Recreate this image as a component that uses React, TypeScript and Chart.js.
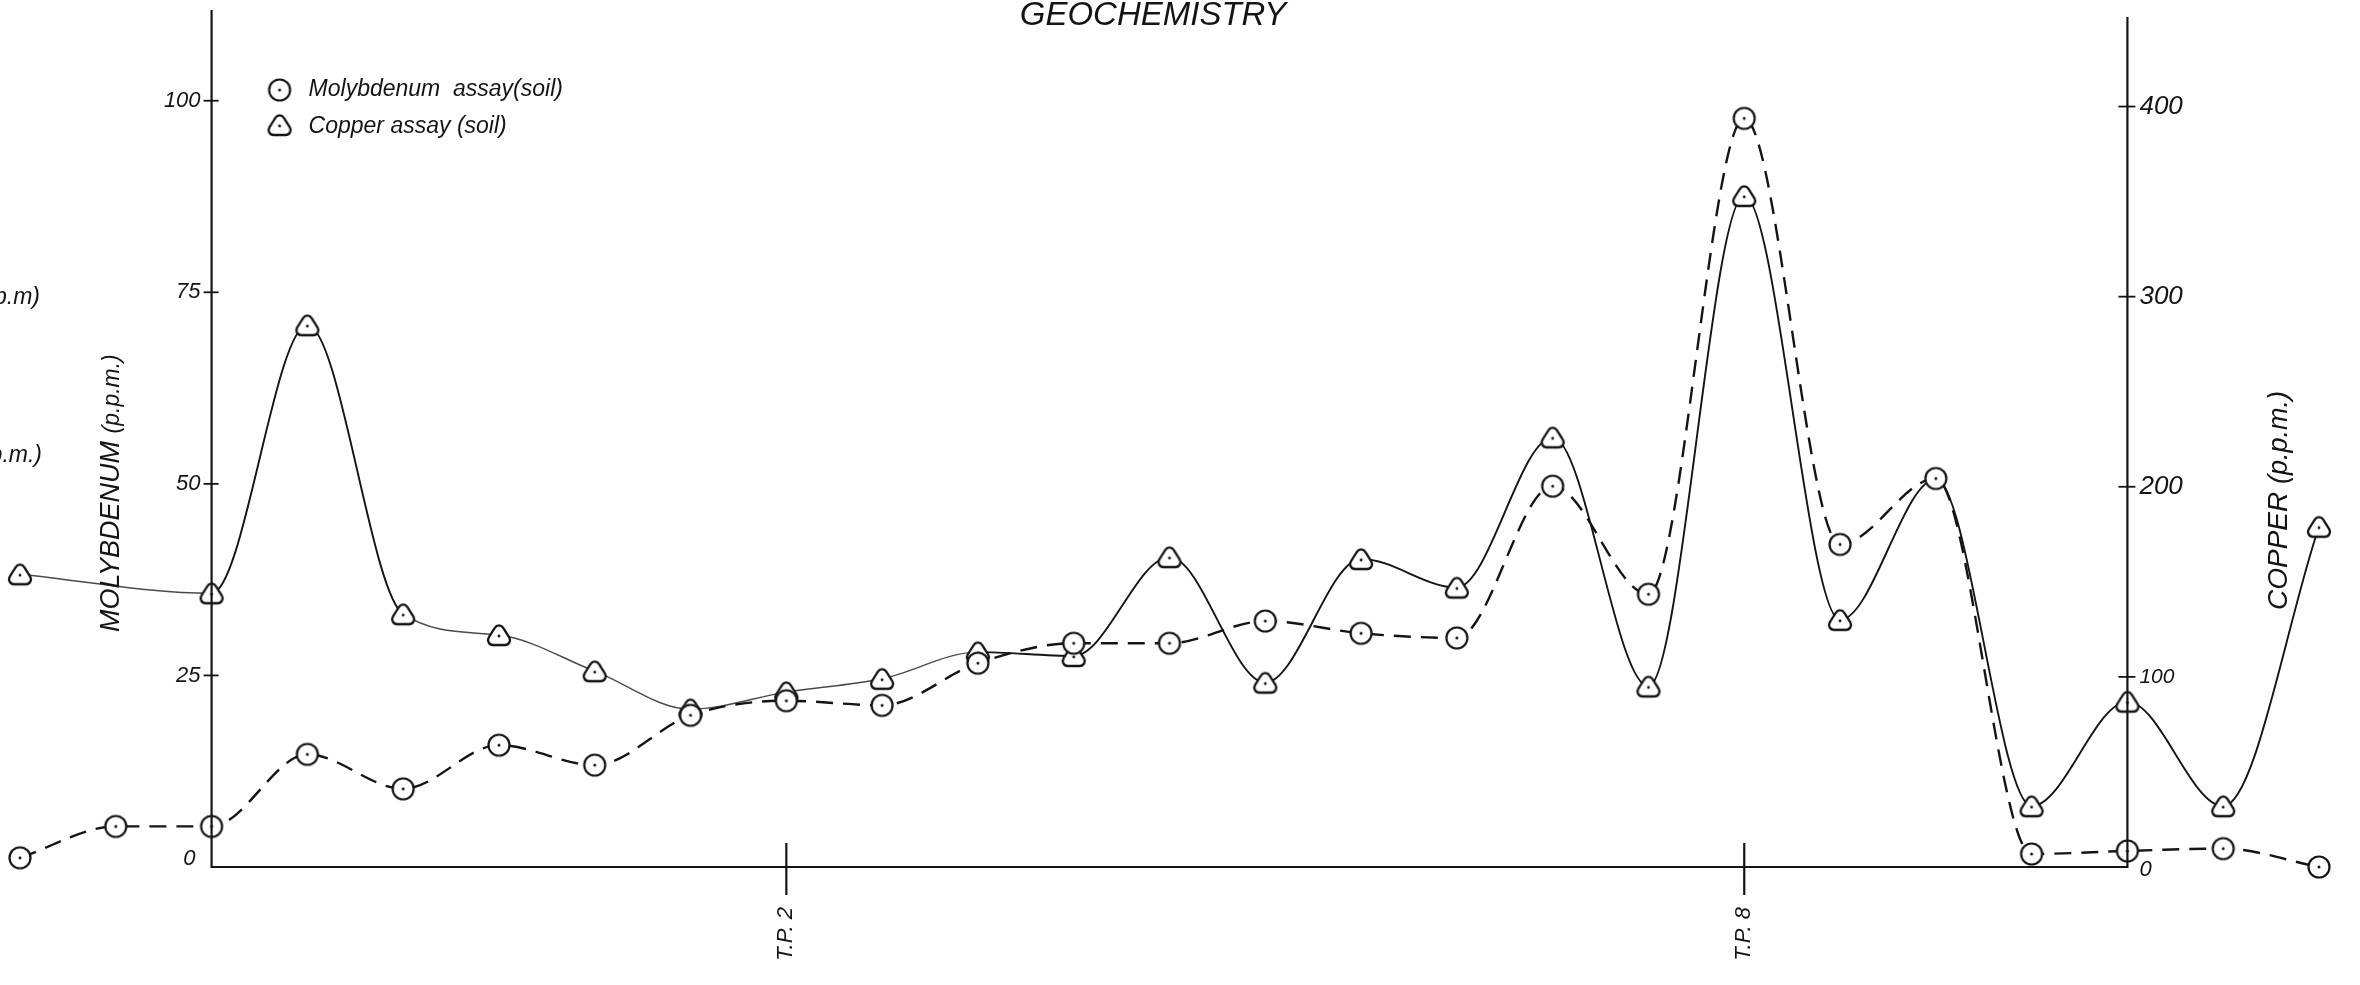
import React, { useEffect, useRef } from "react";
import { Chart, registerables } from "chart.js";

Chart.register(...registerables);

// ---- data ----
const STATIONS = [0, 1, 2, 3, 4, 5, 6, 7, 8, 9, 10, 11, 12, 13, 14, 15, 16, 17, 18, 19, 20, 21, 22, 23, 24];
const MO_VALUES = [1.2, 5.3, 5.3, 14.7, 10.2, 15.9, 13.3, 19.8, 21.7, 21.1, 26.6, 29.2, 29.2, 32.1, 30.5, 29.9, 49.7, 35.6, 97.7, 42.1, 50.7, 1.7, 2.1, 2.4, 0];
const CU_VALUES: (number | null)[] = [154, null, 144, 285, 133, 122, 103, 83, 92, 99, 113, 111, 163, 97, 162, 147, 226, 95, 353, 130, 204, 32, 87, 32, 179];
const CU_HIDDEN_MARKERS = [20];
const MO_TICKS = [0, 25, 50, 75, 100];
const CU_TICKS = [0, 100, 200, 300, 400];
const X_TICKS = [8, 18];
const X_TICK_LABELS = ["T.P. 2", "T.P. 8"];
const LEFT_AXIS_STATION = 2;
const RIGHT_AXIS_STATION = 22;
const MO_LABEL = "Molybdenum  assay(soil)";
const CU_LABEL = "Copper assay (soil)";

const INK = "#141414";
const FONT = '"Liberation Sans", Arial, sans-serif';

function makeCircle(): HTMLCanvasElement {
  const c = document.createElement("canvas");
  c.width = 28;
  c.height = 28;
  const g = c.getContext("2d")!;
  g.beginPath();
  g.arc(14, 14, 10.5, 0, Math.PI * 2);
  g.fillStyle = "#fff";
  g.fill();
  g.lineWidth = 2.2;
  g.strokeStyle = INK;
  g.stroke();
  g.beginPath();
  g.arc(14, 14, 1.5, 0, Math.PI * 2);
  g.fillStyle = INK;
  g.fill();
  return c;
}

function makeTriangle(): HTMLCanvasElement {
  const c = document.createElement("canvas");
  c.width = 36;
  c.height = 36;
  const g = c.getContext("2d")!;
  const pts = [
    [18, 4],
    [33, 28],
    [3, 28],
  ];
  const r = 5;
  g.beginPath();
  g.moveTo((pts[2][0] + pts[0][0]) / 2, (pts[2][1] + pts[0][1]) / 2);
  for (let i = 0; i < 3; i++) {
    const p = pts[i];
    const n = pts[(i + 1) % 3];
    g.arcTo(p[0], p[1], n[0], n[1], r);
  }
  g.closePath();
  g.fillStyle = "#fff";
  g.fill();
  g.lineWidth = 2.3;
  g.lineJoin = "round";
  g.strokeStyle = INK;
  g.stroke();
  g.beginPath();
  g.arc(18, 19, 1.4, 0, Math.PI * 2);
  g.fillStyle = INK;
  g.fill();
  return c;
}

export default function App() {
  const ref = useRef<HTMLCanvasElement | null>(null);

  useEffect(() => {
    if (!ref.current) return;
    const circleImg = makeCircle();
    const triImg = makeTriangle();

    const moData = STATIONS.map((s, i) => ({ x: s, y: MO_VALUES[i] }));
    const cuData = STATIONS.map((s, i) => ({ x: s, y: CU_VALUES[i] })).filter((p) => p.y !== null) as {
      x: number;
      y: number;
    }[];

    const line = (ctx: CanvasRenderingContext2D, x1: number, y1: number, x2: number, y2: number) => {
      ctx.beginPath();
      ctx.moveTo(x1, y1);
      ctx.lineTo(x2, y2);
      ctx.stroke();
    };

    const geoPlugin = {
      id: "geoAxes",
      afterDatasetsDraw(chart: any) {
        const ctx: CanvasRenderingContext2D = chart.ctx;
        const xs = chart.scales.x;
        const ys = chart.scales.y;
        const ys2 = chart.scales.y2;
        const top = chart.chartArea.top;
        const xL = xs.getPixelForValue(LEFT_AXIS_STATION);
        const xR = xs.getPixelForValue(RIGHT_AXIS_STATION);
        const y0 = ys.getPixelForValue(0);
        ctx.save();
        ctx.strokeStyle = INK;
        ctx.fillStyle = INK;
        ctx.lineWidth = 2.2;
        // axes
        line(ctx, xL, top - 5, xL, y0 + 1);
        line(ctx, xR, top + 2, xR, y0 + 1);
        line(ctx, xL, y0, xR, y0);

        // left ticks
        ctx.textBaseline = "middle";
        ctx.font = `italic 22px ${FONT}`;
        ctx.textAlign = "right";
        MO_TICKS.forEach((v) => {
          const y = ys.getPixelForValue(v);
          if (v !== 0) {
            ctx.lineWidth = 1.8;
            line(ctx, xL - 8, y, xL + 7, y);
            ctx.fillText(String(v), xL - 11, y);
          } else {
            ctx.fillText(String(v), xL - 16, y - 8);
          }
        });

        // right ticks
        ctx.textAlign = "left";
        CU_TICKS.forEach((v) => {
          const y = ys2.getPixelForValue(v);
          if (v !== 0) {
            ctx.lineWidth = 1.8;
            line(ctx, xR - 9, y, xR + 8, y);
            ctx.font = v >= 200 ? `italic 26px ${FONT}` : `italic 21px ${FONT}`;
            ctx.fillText(String(v), xR + 12, y);
          } else {
            ctx.font = `italic 22px ${FONT}`;
            ctx.fillText(String(v), xR + 12, y + 3);
          }
        });

        // x ticks (T.P.)
        ctx.font = `italic 22px ${FONT}`;
        X_TICKS.forEach((s, i) => {
          const x = xs.getPixelForValue(s);
          ctx.lineWidth = 2.2;
          line(ctx, x, y0 - 24, x, y0 + 28);
          ctx.save();
          ctx.translate(x, y0 + 40);
          ctx.rotate(-Math.PI / 2);
          ctx.textAlign = "right";
          ctx.textBaseline = "middle";
          ctx.fillText(X_TICK_LABELS[i], 0, 0);
          ctx.restore();
        });

        // axis titles
        ctx.save();
        ctx.translate(xL - 93, 632);
        ctx.rotate(-Math.PI / 2);
        ctx.textAlign = "left";
        ctx.textBaseline = "alphabetic";
        ctx.font = `italic 27px ${FONT}`;
        ctx.fillText("MOLYBDENUM", 0, 0);
        const w1 = ctx.measureText("MOLYBDENUM ").width;
        ctx.font = `italic 23px ${FONT}`;
        ctx.fillText("(p.p.m.)", w1, 0);
        ctx.restore();

        ctx.save();
        ctx.translate(xR + 160, 610);
        ctx.rotate(-Math.PI / 2);
        ctx.textAlign = "left";
        ctx.textBaseline = "alphabetic";
        ctx.font = `italic 28px ${FONT}`;
        ctx.fillText("COPPER", 0, 0);
        const w2 = ctx.measureText("COPPER ").width;
        ctx.font = `italic 27px ${FONT}`;
        ctx.fillText("(p.p.m.)", w2, 0);
        ctx.restore();

        // title
        ctx.textAlign = "center";
        ctx.textBaseline = "alphabetic";
        ctx.font = `italic 33px ${FONT}`;
        ctx.fillText("GEOCHEMISTRY", 1153, 25);

        // legend
        const lx = xL + 68;
        ctx.drawImage(circleImg, lx - 14, 90 - 14);
        ctx.drawImage(triImg, lx - 18, 126 - 19);
        ctx.font = `italic 23px ${FONT}`;
        ctx.textAlign = "left";
        ctx.textBaseline = "middle";
        ctx.fillText(MO_LABEL, lx + 29, 90);
        ctx.fillText(CU_LABEL, lx + 29, 127);

        // cut-off labels from the neighbouring panel
        ctx.textAlign = "right";
        ctx.font = `italic 23px ${FONT}`;
        ctx.fillText("(p.p.m)", 40, 298);
        ctx.fillText("(p.p.m.)", 42, 456);
        ctx.restore();
      },
    };

    const chart = new Chart(ref.current, {
      type: "line",
      data: {
        datasets: [
          {
            label: MO_LABEL,
            data: moData,
            yAxisID: "y",
            borderColor: INK,
            borderWidth: 2.4,
            borderDash: [17, 10],
            pointStyle: circleImg as any,
            pointRadius: 11,
            cubicInterpolationMode: "monotone",
            clip: false as any,
            fill: false,
          },
          {
            label: CU_LABEL,
            data: cuData,
            yAxisID: "y2",
            borderColor: INK,
            borderWidth: 1.9,
            pointStyle: ((c: any) => (c.raw && CU_HIDDEN_MARKERS.includes(c.raw.x) ? false : triImg)) as any,
            pointRadius: 13,
            cubicInterpolationMode: "monotone",
            clip: false as any,
            fill: false,
            segment: {
              borderColor: (c: any) => {
                const x = c.p0.parsed.x;
                return x < 2 || (x >= 4 && x < 10) ? "#4a4a4a" : INK;
              },
              borderWidth: (c: any) => {
                const x = c.p0.parsed.x;
                return x < 2 || (x >= 4 && x < 10) ? 1.4 : 1.9;
              },
            },
          },
        ],
      },
      options: {
        responsive: false,
        animation: false,
        devicePixelRatio: 1,
        events: [],
        layout: { padding: { left: 20, right: 41, top: 12, bottom: 118 } },
        elements: { line: { capBezierPoints: false } as any },
        scales: {
          x: { type: "linear", min: 0, max: 24, display: false, offset: false },
          y: { type: "linear", min: 0, max: 111.2, display: false },
          y2: { type: "linear", min: 0, max: 448.2, display: false },
        },
        plugins: {
          legend: { display: false },
          tooltip: { enabled: false },
          title: { display: false },
        },
      },
      plugins: [geoPlugin],
    });

    return () => chart.destroy();
  }, []);

  return (
    <div style={{ position: "fixed", left: 0, top: 0, width: 2360, height: 985, background: "#fff" }}>
      <canvas ref={ref} width={2360} height={985} style={{ display: "block" }} />
    </div>
  );
}
